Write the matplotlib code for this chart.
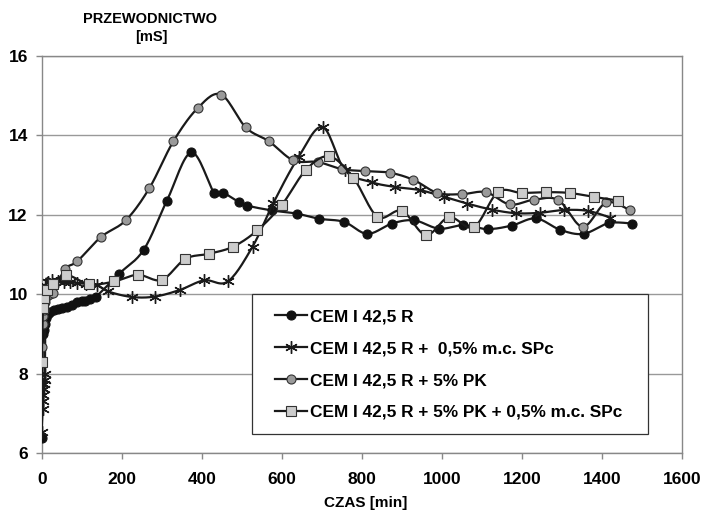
import numpy as np
import matplotlib
matplotlib.use("Agg")
import matplotlib.pyplot as plt
from matplotlib.lines import Line2D
from matplotlib.patches import Rectangle

plt.rcParams['font.family'] = ['Liberation Sans', 'DejaVu Sans']

labels = ["CEM I 42,5 R",
          "CEM I 42,5 R +  0,5% m.c. SPc",
          "CEM I 42,5 R + 5% PK",
          "CEM I 42,5 R + 5% PK + 0,5% m.c. SPc"]

x1 = [0, 3, 5, 7, 10, 15, 20, 30, 40, 50, 62, 75, 87, 100, 108, 120, 136, 194, 255, 313, 374,
      431, 454, 493, 514, 575, 637, 694, 756, 814, 875, 931, 993, 1054, 1114, 1175, 1235, 1296,
      1354, 1417, 1475]
y1 = [6.37, 9.0, 9.1, 9.25, 9.4, 9.5, 9.55, 9.6, 9.62, 9.66, 9.69, 9.74, 9.8, 9.82, 9.84, 9.87,
      9.94, 10.52, 11.12, 12.36, 13.57, 12.55, 12.55, 12.32, 12.23, 12.11, 12.03, 11.9, 11.82,
      11.52, 11.78, 11.86, 11.65, 11.74, 11.64, 11.73, 11.91, 11.62, 11.52, 11.79, 11.78]

x2 = [0, 2, 3, 4, 5, 6, 7, 8, 10, 15, 25, 40, 55, 70, 87, 110, 137, 166, 225, 283, 346, 406, 465,
      527, 579, 642, 702, 758, 825, 884, 946, 1006, 1064, 1125, 1185, 1244, 1304, 1364, 1421]
y2 = [6.54, 7.1, 7.3, 7.45, 7.6, 7.75, 7.85, 8.0, 10.2, 10.3, 10.36, 10.33, 10.3, 10.3, 10.28,
      10.26, 10.24, 10.07, 9.93, 9.94, 10.11, 10.35, 10.32, 11.2, 12.3, 13.46, 14.21, 13.12,
      12.82, 12.7, 12.62, 12.45, 12.28, 12.13, 12.04, 12.05, 12.12, 12.1, 11.93]

x3 = [0, 2, 4, 6, 8, 12, 20, 29, 58, 89, 148, 210, 269, 329, 390, 448, 510, 568, 629, 690, 750,
      809, 870, 929, 989, 1050, 1110, 1170, 1230, 1291, 1352, 1411, 1471]
y3 = [8.67, 9.25, 9.45, 9.6, 9.8, 9.95, 10.0, 10.03, 10.63, 10.83, 11.44, 11.86, 12.67, 13.85,
      14.69, 15.03, 14.2, 13.85, 13.37, 13.33, 13.15, 13.1, 13.06, 12.88, 12.55, 12.52, 12.57,
      12.26, 12.38, 12.37, 11.7, 12.31, 12.11]

x4 = [0, 3, 6, 12, 29, 61, 119, 181, 240, 300, 359, 419, 479, 539, 600, 661, 719, 779, 839, 900,
      960, 1018, 1080, 1140, 1200, 1261, 1319, 1380, 1440]
y4 = [8.28, 9.65, 9.9, 10.11, 10.26, 10.49, 10.25, 10.32, 10.49, 10.36, 10.89, 11.02, 11.2,
      11.61, 12.25, 13.14, 13.47, 12.93, 11.95, 12.1, 11.49, 11.94, 11.69, 12.57, 12.55, 12.57,
      12.55, 12.45, 12.36]

x_ticks = [0, 200, 400, 600, 800, 1000, 1200, 1400, 1600]
y_ticks = [6, 8, 10, 12, 14, 16]


def smooth(x, y, n=16):
    x = np.asarray(x, float)
    y = np.asarray(y, float)
    P = np.column_stack([x, y])
    P = np.vstack([P[0], P, P[-1]])
    out = []
    t = np.linspace(0, 1, n, endpoint=False)[:, None]
    for i in range(1, len(P) - 2):
        p0, p1, p2, p3 = P[i - 1], P[i], P[i + 1], P[i + 2]
        seg = 0.5 * ((2 * p1) + (-p0 + p2) * t + (2 * p0 - 5 * p1 + 4 * p2 - p3) * t ** 2
                     + (-p0 + 3 * p1 - 3 * p2 + p3) * t ** 3)
        out.append(seg)
    out.append(P[-2][None, :])
    out = np.vstack(out)
    return out[:, 0], out[:, 1]


fig = plt.figure(figsize=(7.01, 5.13), dpi=100)
ax = fig.add_axes([41.7 / 701, 1 - 453 / 513, (682 - 41.7) / 701, (453 - 56) / 513])

lc = '#1a1a1a'
lw = 1.6
styles = [
    dict(marker='o', ms=6.5, mfc='#111111', mec='#111111', mew=0.8),
    dict(marker=(6, 2, 0), ms=9, mfc=lc, mec=lc, mew=1.0),
    dict(marker='o', ms=6.5, mfc='#9a9a9a', mec='#333333', mew=0.8),
    dict(marker='s', ms=6.5, mfc='#cccccc', mec='#333333', mew=0.8),
]
series = [(x1, y1), (x2, y2), (x3, y3), (x4, y4)]
for i, ((xs, ys), st) in enumerate(zip(series, styles)):
    sx, sy = smooth(xs, ys)
    ax.plot(sx, sy, color=lc, lw=lw, zorder=3 + i, solid_capstyle='round')
    ax.plot(xs, ys, ls='none', zorder=3 + i, **st)

ax.set_xlim(0, 1600)
ax.set_ylim(6, 16)
ax.set_xticks(x_ticks)
ax.set_yticks(y_ticks)
ax.set_xticklabels([str(v) for v in x_ticks])
ax.set_yticklabels([str(v) for v in y_ticks])
for lab in ax.get_xticklabels() + ax.get_yticklabels():
    lab.set_fontsize(12.5)
    lab.set_fontweight('bold')
ax.grid(axis='y', color='#999999', lw=1.0, zorder=0)
ax.set_axisbelow(True)
for s in ax.spines.values():
    s.set_color('#888888')
    s.set_linewidth(1.0)
ax.tick_params(axis='both', direction='out', length=4, width=1.0, color='#888888')
ax.tick_params(axis='x', pad=9.5)
ax.tick_params(axis='y', pad=6)

fig.text(150 / 701, 1 - 19 / 513, "PRZEWODNICTWO", ha='center', va='center',
         fontsize=10.5, fontweight='bold')
fig.text(151 / 701, 1 - 37 / 513, "[mS]", ha='center', va='center',
         fontsize=10.5, fontweight='bold')
fig.text(366 / 701, 1 - 503 / 513, "CZAS [min]", ha='center', va='center',
         fontsize=11, fontweight='bold')

# legend frame
frame = Rectangle((0.3284, 0.0479), 0.6185, 0.3526, transform=ax.transAxes,
                  facecolor='white', edgecolor='#333333', lw=0.9, zorder=9)
ax.add_patch(frame)

handles = []
for st in styles:
    handles.append(Line2D([], [], color=lc, lw=lw, **st))
leg = ax.legend(handles, labels, loc='center left', bbox_to_anchor=(0.3644, 0.2229),
                prop=dict(size=12.4, weight='bold'), frameon=False,
                borderpad=0, labelspacing=0.98,
                handlelength=1.85, handletextpad=0.2, borderaxespad=0)
leg.set_zorder(10)

fig.savefig("out.png", dpi=100)
